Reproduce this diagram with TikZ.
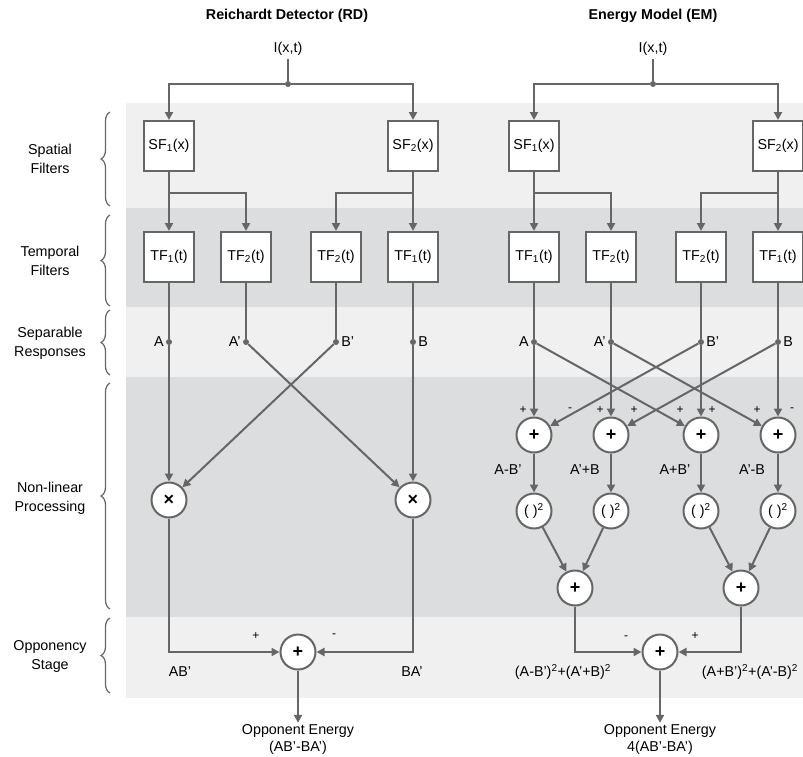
\documentclass[tikz,border=0pt]{standalone}
\usepackage{fontspec}
\setmainfont{Liberation Sans}
\usetikzlibrary{arrows.meta,decorations.pathreplacing}
\definecolor{lg}{HTML}{F0F0F0}
\definecolor{dg}{HTML}{DCDDDF}
\definecolor{ln}{HTML}{666666}
\begin{document}
\begin{tikzpicture}[x=1pt,y=-1pt,
  font=\fontsize{14.3}{17}\selectfont,
  conn/.style={draw=ln, line width=2pt, -{Triangle[length=8pt,width=8pt]}},
  plain/.style={draw=ln, line width=2pt},
  fbox/.style={draw=ln, line width=2pt, fill=white, minimum size=50pt, inner sep=0pt},
  opc/.style={circle, draw=ln, line width=2pt, fill=white, minimum size=35pt, inner sep=0pt},
  opb/.style={opc, font=\bfseries\fontsize{18}{18}\selectfont},
  jdot/.style={circle, fill=ln, minimum size=6pt, inner sep=0pt},
  sgn/.style={font=\fontsize{12}{13}\selectfont, inner sep=0pt},
  brc/.style={draw=ln, line width=1.2pt, decorate, decoration={brace, amplitude=9pt}},
  ttl/.style={font=\bfseries\fontsize{14.3}{17}\selectfont},
  stage/.style={align=center, font=\fontsize{14.3}{19}\selectfont},
  lbl/.style={inner sep=2pt}
]
\useasboundingbox (0,0) rectangle (803,756);
% bands
\fill[lg] (126,103) rectangle (803,208);
\fill[dg] (126,208) rectangle (803,307);
\fill[lg] (126,307) rectangle (803,377);
\fill[dg] (126,377) rectangle (803,617);
\fill[lg] (126,617) rectangle (803,698);
% braces and stage labels
\draw[brc] (110,206) -- (110,112);
\draw[brc] (110,306) -- (110,215);
\draw[brc] (110,375) -- (110,310);
\draw[brc] (110,609) -- (110,383);
\draw[brc] (110,693) -- (110,618);
\node[stage] (st1) at (50,159) {Spatial\\Filters};
\node[stage] (st2) at (50,261) {Temporal\\Filters};
\node[stage] (st3) at (50,343) {Separable\\Responses};
\node[stage] (st4) at (50,498) {Non-linear\\Processing};
\node[stage] (st5) at (50,656) {Opponency\\Stage};

% ===== Reichardt Detector =====
\node[ttl] (t1) at (287,16) {Reichardt Detector (RD)};
\node (i1) at (288,49) {I(x,t)};
\node[jdot] (j1) at (288,84) {};
\node[fbox] (s11) at (169,146) {SF\textsubscript{1}(x)};
\node[fbox] (s12) at (413,146) {SF\textsubscript{2}(x)};
\coordinate (b11) at (169,193);
\coordinate (b12) at (413,193);
\node[fbox] (f11) at (169,257) {TF\textsubscript{1}(t)};
\node[fbox] (f12) at (246,257) {TF\textsubscript{2}(t)};
\node[fbox] (f13) at (336,257) {TF\textsubscript{2}(t)};
\node[fbox] (f14) at (413,257) {TF\textsubscript{1}(t)};
\node[jdot] (d11) at (169,342) {};
\node[jdot] (d12) at (246,342) {};
\node[jdot] (d13) at (336,342) {};
\node[jdot] (d14) at (413,342) {};
\node[lbl,anchor=east] (la11) at (d11.west) {A};
\node[lbl,anchor=east] (la12) at (d12.west) {A'};
\node[lbl,anchor=west] (la13) at (d13.east) {B'};
\node[lbl,anchor=west] (la14) at (d14.east) {B};
\node[opb] (m1) at (169,500) {×};
\node[opb] (m2) at (413,500) {×};
\node[opb] (r1) at (298,652) {+};
\node[sgn] (sg1) at (256,636) {+};
\node[sgn] (sg2) at (334,636) {-};
\node (ab1) at (180,672) {AB'};
\node (ba1) at (412,672) {BA'};
\node[align=center, inner sep=1pt] (o1) at (298,739) {Opponent Energy\\(AB'-BA')};

\draw[plain] (i1) -- (j1);
\draw[conn] (j1) -| (s11);
\draw[conn] (j1) -| (s12);
\draw[conn] (s11) -- (f11);
\draw[conn] (b11) -| (f12);
\draw[conn] (s12) -- (f14);
\draw[conn] (b12) -| (f13);
\draw[plain] (f11) -- (d11);
\draw[plain] (f12) -- (d12);
\draw[plain] (f13) -- (d13);
\draw[plain] (f14) -- (d14);
\draw[conn] (d11) -- (m1);
\draw[conn] (d12) -- (m2);
\draw[conn] (d13) -- (m1);
\draw[conn] (d14) -- (m2);
\draw[conn] (m1) |- (r1);
\draw[conn] (m2) |- (r1);
\draw[conn] (r1) -- (o1.north);

% ===== Energy Model =====
\node[ttl] (t2) at (653,16) {Energy Model (EM)};
\node (i2) at (653,49) {I(x,t)};
\node[jdot] (j2) at (653,84) {};
\node[fbox] (s21) at (534,146) {SF\textsubscript{1}(x)};
\node[fbox] (s22) at (778,146) {SF\textsubscript{2}(x)};
\coordinate (b21) at (534,193);
\coordinate (b22) at (778,193);
\node[fbox] (f21) at (534,257) {TF\textsubscript{1}(t)};
\node[fbox] (f22) at (611,257) {TF\textsubscript{2}(t)};
\node[fbox] (f23) at (701,257) {TF\textsubscript{2}(t)};
\node[fbox] (f24) at (778,257) {TF\textsubscript{1}(t)};
\node[jdot] (d21) at (534,342) {};
\node[jdot] (d22) at (611,342) {};
\node[jdot] (d23) at (701,342) {};
\node[jdot] (d24) at (778,342) {};
\node[lbl,anchor=east] (la21) at (d21.west) {A};
\node[lbl,anchor=east] (la22) at (d22.west) {A'};
\node[lbl,anchor=west] (la23) at (d23.east) {B'};
\node[lbl,anchor=west] (la24) at (d24.east) {B};
\node[opb] (q1) at (534,435) {+};
\node[opb] (q2) at (611,435) {+};
\node[opb] (q3) at (701,435) {+};
\node[opb] (q4) at (778,435) {+};
\node[sgn] (sq1a) at (523,410) {+};
\node[sgn] (sq1b) at (570,410) {-};
\node[sgn] (sq2a) at (600,410) {+};
\node[sgn] (sq2b) at (634,410) {+};
\node[sgn] (sq3a) at (680,410) {+};
\node[sgn] (sq3b) at (712,410) {+};
\node[sgn] (sq4a) at (757,410) {+};
\node[sgn] (sq4b) at (792,410) {-};
\node (lq1) at (508,470) {A-B'};
\node (lq2) at (585,470) {A'+B};
\node (lq3) at (675,470) {A+B'};
\node (lq4) at (752,470) {A'-B};
\node[opc] (p1) at (534,511) {(\ )\textsuperscript{2}};
\node[opc] (p2) at (611,511) {(\ )\textsuperscript{2}};
\node[opc] (p3) at (701,511) {(\ )\textsuperscript{2}};
\node[opc] (p4) at (778,511) {(\ )\textsuperscript{2}};
\node[opb] (u1) at (575,588) {+};
\node[opb] (u2) at (741,588) {+};
\node[opb] (v) at (660,652) {+};
\node[sgn] (sv1) at (626,638) {-};
\node[sgn] (sv2) at (695,636) {+};
\node (lu1) at (563,672) {(A-B')\textsuperscript{2}+(A'+B)\textsuperscript{2}};
\node (lu2) at (750,672) {(A+B')\textsuperscript{2}+(A'-B)\textsuperscript{2}};
\node[align=center, inner sep=1pt] (o2) at (660,739) {Opponent Energy\\4(AB'-BA')};

\draw[plain] (i2) -- (j2);
\draw[conn] (j2) -| (s21);
\draw[conn] (j2) -| (s22);
\draw[conn] (s21) -- (f21);
\draw[conn] (b21) -| (f22);
\draw[conn] (s22) -- (f24);
\draw[conn] (b22) -| (f23);
\draw[plain] (f21) -- (d21);
\draw[plain] (f22) -- (d22);
\draw[plain] (f23) -- (d23);
\draw[plain] (f24) -- (d24);
\draw[conn] (d21) -- (q1);
\draw[conn] (d21) -- (q3);
\draw[conn] (d22) -- (q2);
\draw[conn] (d22) -- (q4);
\draw[conn] (d23) -- (q3);
\draw[conn] (d23) -- (q1);
\draw[conn] (d24) -- (q4);
\draw[conn] (d24) -- (q2);
\draw[conn] (q1) -- (p1);
\draw[conn] (q2) -- (p2);
\draw[conn] (q3) -- (p3);
\draw[conn] (q4) -- (p4);
\draw[conn] (p1) -- (u1);
\draw[conn] (p2) -- (u1);
\draw[conn] (p3) -- (u2);
\draw[conn] (p4) -- (u2);
\draw[conn] (u1) |- (v);
\draw[conn] (u2) |- (v);
\draw[conn] (v) -- (o2.north);
\end{tikzpicture}
\end{document}
